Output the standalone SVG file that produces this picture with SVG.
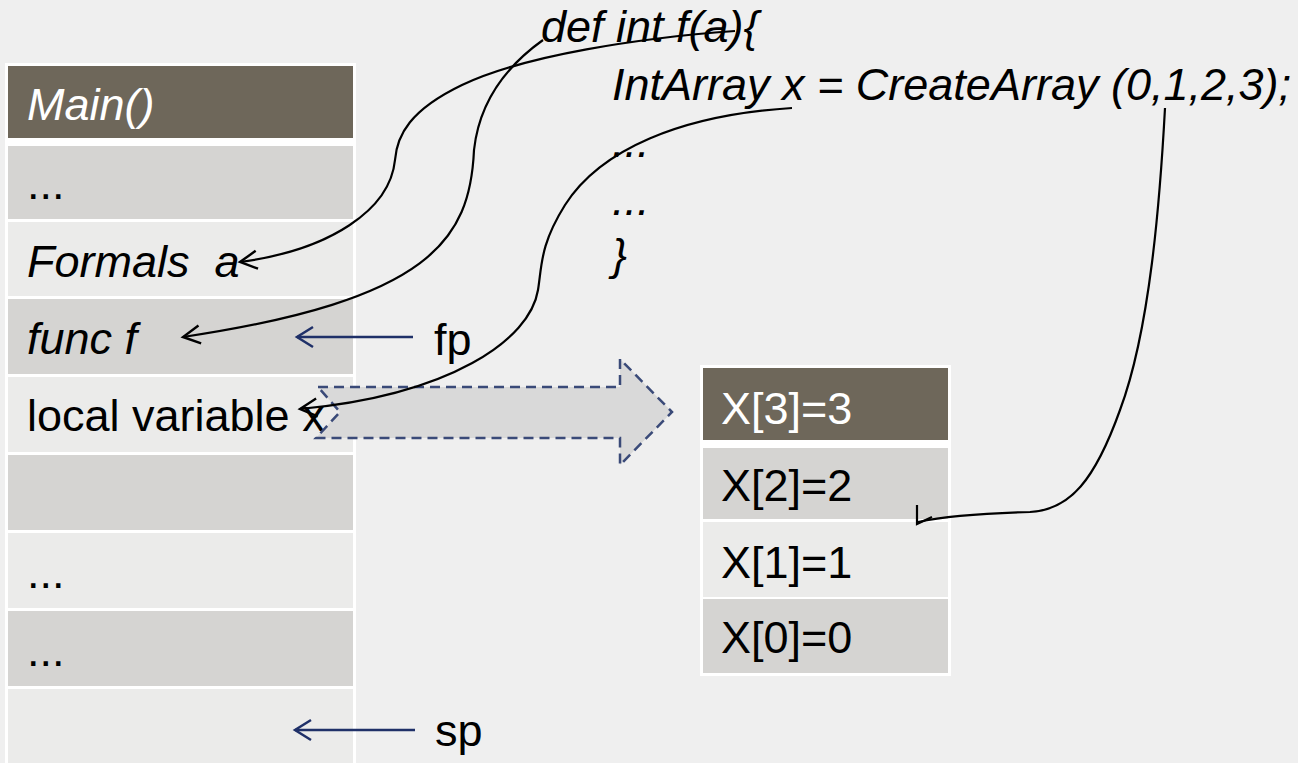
<svg xmlns="http://www.w3.org/2000/svg" width="1298" height="763" viewBox="0 0 1298 763">
<style>
  .t{font-family:"Liberation Sans",Arial,sans-serif;font-size:45px;fill:#000}
  .i{font-style:italic}
  .w{fill:#fff}
  .dark{fill:#6e675a}
  .mid{fill:#d5d4d2}
  .lite{fill:#ebebea}
  .frame{fill:#fff}
  .curve{fill:none;stroke:#000;stroke-width:2.2}
  .nav{fill:none;stroke:#1f3068;stroke-width:2.5}
</style>
<defs>
  <marker id="chev" markerUnits="userSpaceOnUse" viewBox="-20 -12 24 24" refX="0" refY="0" markerWidth="24" markerHeight="24" orient="auto" overflow="visible">
    <path d="M -17 -9 L 0 0 L -17 9" fill="none" stroke="#000" stroke-width="2.4"/>
  </marker>
  <marker id="navchev" markerUnits="userSpaceOnUse" viewBox="-20 -12 24 24" refX="0" refY="0" markerWidth="24" markerHeight="24" orient="auto" overflow="visible">
    <path d="M -16 -10 L 0 0 L -16 10" fill="none" stroke="#1f3068" stroke-width="2.5"/>
  </marker>
</defs>
<rect x="0" y="0" width="1298" height="763" fill="#efefef"/>

<g id="stack">
  <rect class="frame" x="5" y="63" width="351" height="700"/>
  <g id="row-main"><rect class="dark" x="8" y="66" width="345" height="72"/><text class="t i w" x="27" y="120">Main()</text></g>
  <g id="row-dots1"><rect class="mid" x="8" y="146" width="345" height="73"/><text class="t" x="27" y="199">...</text></g>
  <g id="row-formals"><rect class="lite" x="8" y="222" width="345" height="74"/><text class="t i" x="27" y="277">Formals&#160; a</text></g>
  <g id="row-func"><rect class="mid" x="8" y="299" width="345" height="75"/><text class="t i" x="27" y="354">func f</text></g>
  <g id="row-local"><rect class="lite" x="8" y="377" width="345" height="75"/><text class="t" x="27" y="431">local variable x</text></g>
  <g id="row-empty1"><rect class="mid" x="8" y="455" width="345" height="75"/></g>
  <g id="row-dots2"><rect class="lite" x="8" y="533" width="345" height="75"/><text class="t" x="27" y="588">...</text></g>
  <g id="row-dots3"><rect class="mid" x="8" y="611" width="345" height="75"/><text class="t" x="27" y="666">...</text></g>
  <g id="row-empty2"><rect class="lite" x="8" y="689" width="345" height="74"/></g>
</g>

<g id="array">
  <rect class="frame" x="700" y="365" width="251" height="311"/>
  <g id="x3"><rect class="dark" x="703" y="368" width="245" height="72"/><text class="t w" x="721" y="424">X[3]=3</text></g>
  <g id="x2"><rect class="mid" x="703" y="448" width="245" height="71"/><text class="t" x="721" y="501">X[2]=2</text></g>
  <g id="x1"><rect class="lite" x="703" y="522" width="245" height="75"/><text class="t" x="721" y="578">X[1]=1</text></g>
  <g id="x0"><rect class="mid" x="703" y="599" width="245" height="74"/><text class="t" x="721" y="653">X[0]=0</text></g>
</g>

<g id="big-arrow">
  <polygon points="318,387 620,387 620,359 672,412 620,465 620,438 316,438 340,412" fill="#d9d9d9" stroke="#3a4a78" stroke-width="2.5" stroke-dasharray="10,6"/>
</g>

<g id="code">
  <text class="t i" x="541" y="42">def int f(a){</text>
  <text class="t i" x="612" y="100">IntArray x = CreateArray (0,1,2,3);</text>
  <text class="t i" x="612" y="157">...</text>
  <text class="t i" x="612" y="215">...</text>
  <text class="t i" x="612" y="270">}</text>
</g>

<g id="fp-label"><text class="t" x="434" y="355">fp</text></g>
<g id="sp-label"><text class="t" x="435" y="746">sp</text></g>

<g id="connectors">
  <path class="curve" d="M 735,31 C 640,38 525,55 462,85 C 410,110 397,135 395,160 C 390,210 330,250 240,262" marker-end="url(#chev)"/>
  <path class="curve" d="M 543,40 C 515,60 480,95 474,150 C 470,240 430,300 183,337" marker-end="url(#chev)"/>
  <path class="curve" d="M 792,108 C 680,115 600,150 565,205 C 540,245 542,265 538,290 C 530,340 450,395 300,409" marker-end="url(#chev)"/>
  <path class="curve" d="M 1165,108 C 1160,200 1150,330 1120,410 C 1095,480 1070,510 1030,512 C 990,513 950,515 918,522"/>
  <path class="curve" d="M 917,505 L 917,524 L 932,517"/>
  <path class="nav" d="M 413,337 L 297,337" marker-end="url(#navchev)"/>
  <path class="nav" d="M 415,730 L 295,730" marker-end="url(#navchev)"/>
</g>
</svg>
